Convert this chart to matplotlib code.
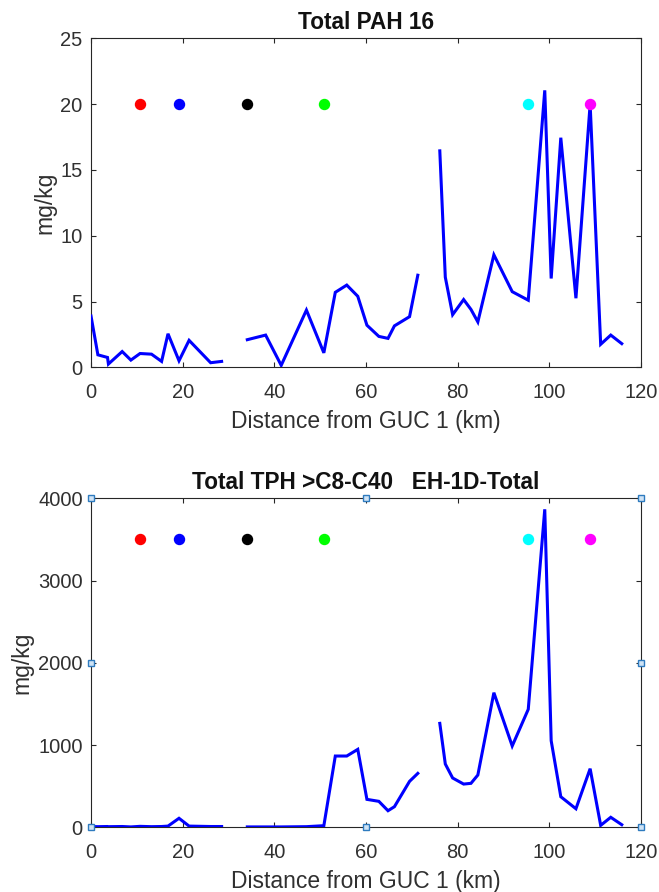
import numpy as np
import matplotlib
matplotlib.use("Agg")
import matplotlib.pyplot as plt

plt.rcParams['font.family'] = ['Liberation Sans', 'DejaVu Sans']

nan = np.nan
# distance along transect (km); NaN entries break the line into segments
distance = [0, 1.5, 3.6, 3.8, 6.8, 8.7, 10.7, 13.2, 15.4, 16.8, 19.2, 21.4, 26.1, 28.5,
            31.0,
            34.1, 38.1, 41.5, 47.0, 50.8, 53.3, 55.8, 58.2, 60.2, 62.8, 64.8, 66.2, 69.5, 71.3,
            74.0,
            76.1, 77.3, 78.9, 81.3, 82.9, 84.4, 87.9, 91.9, 95.4, 99.0, 100.4, 102.5, 105.8,
            108.9, 111.2, 113.4, 115.8]

pah16 = [3.9, 0.95, 0.75, 0.25, 1.2, 0.55, 1.05, 1.0, 0.45, 2.55, 0.5, 2.05, 0.35, 0.45,
         nan,
         2.1, 2.45, 0.15, 4.35, 1.1, 5.7, 6.25, 5.4, 3.2, 2.35, 2.2, 3.15, 3.85, 7.0,
         nan,
         16.45, 6.85, 4.0, 5.15, 4.4, 3.45, 8.55, 5.75, 5.1, 21.05, 6.75, 17.45, 5.25,
         20.0, 1.75, 2.45, 1.8]

tph = [10, 8, 10, 8, 10, 5, 12, 8, 10, 15, 110, 15, 10, 10,
       nan,
       5, 5, 5, 8, 20, 867, 867, 948, 340, 316, 202, 251, 559, 656,
       nan,
       1264, 770, 600, 526, 535, 636, 1637, 989, 1435, 3867, 1053, 372, 226,
       713, 24, 122, 32]

# station marker positions and colours
station_x = [10.7, 19.2, 34.0, 50.8, 95.4, 108.9]
station_colors = ['#ff0000', '#0000ff', '#000000', '#00ff00', '#00ffff', '#ff00ff']
station_y_pah = 20
station_y_tph = 3500

x_ticks = [0, 20, 40, 60, 80, 100, 120]
pah_ticks = [0, 5, 10, 15, 20, 25]
tph_ticks = [0, 1000, 2000, 3000, 4000]

fig = plt.figure(figsize=(6.59, 8.92), dpi=100)
ax1 = fig.add_axes([0.1381, 0.5882, 0.8346, 0.3688])
ax2 = fig.add_axes([0.1381, 0.0725, 0.8346, 0.3688])

axis_col = '#262626'
text_col = '#303030'

def style(ax):
    ax.tick_params(direction='in', top=True, right=True, length=3.6, width=0.8,
                   color=axis_col, labelsize=14.5, labelcolor=text_col,
                   labeltop=False, labelright=False)
    ax.tick_params(axis='x', pad=11)
    ax.tick_params(axis='y', pad=6)
    for s in ax.spines.values():
        s.set_color(axis_col)
        s.set_linewidth(0.8)

for ax, vals, sy, yt, ylim, title in [
        (ax1, pah16, station_y_pah, pah_ticks, (0, 25), 'Total PAH 16'),
        (ax2, tph, station_y_tph, tph_ticks, (0, 4000), 'Total TPH >C8-C40   EH-1D-Total')]:
    ax.plot(distance, vals, color='#0000ff', lw=2.2, solid_joinstyle='miter', zorder=3)
    for xs, c in zip(station_x, station_colors):
        ax.plot([xs], [sy], 'o', color=c, ms=7.2, mec=c, zorder=4)
    ax.set_xlim(0, 120)
    ax.set_ylim(*ylim)
    ax.set_xticks(x_ticks)
    ax.set_yticks(yt)
    ax.set_title(title, fontsize=16.3, fontweight='bold', pad=7, color='#111111')
    ax.set_xlabel('Distance from GUC 1 (km)', fontsize=16.5, color=text_col, labelpad=6)
    ax.set_ylabel('mg/kg', fontsize=16.5, color=text_col, labelpad=3)
    style(ax)

# selection handles on the lower axes box
hx = [0, 60, 120, 0, 120, 0, 60, 120]
hy = [0, 0, 0, 2000, 2000, 4000, 4000, 4000]
ax2.plot(hx, hy, 's', ms=5, mfc='#cfe3f5', mec='#2e7bbf', mew=1.0,
         linestyle='none', clip_on=False, zorder=10)

fig.savefig('out.png', dpi=100, facecolor='white')
